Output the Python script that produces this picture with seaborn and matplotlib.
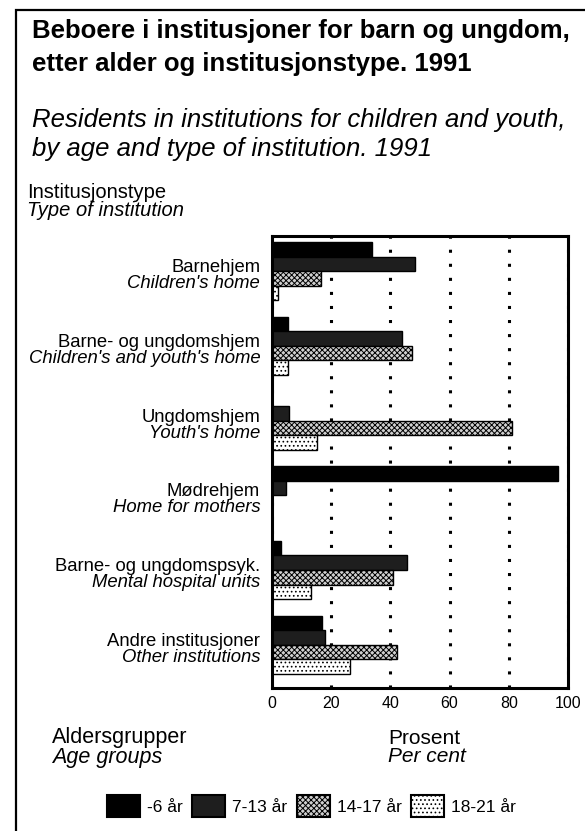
import numpy as np
import pandas as pd
import seaborn as sns
import matplotlib.pyplot as plt
import matplotlib.transforms as mtransforms
from matplotlib.patches import Rectangle

# institution types (Norwegian / English)
inst_no = ["Barnehjem", "Barne- og ungdomshjem", "Ungdomshjem", "Mødrehjem",
           "Barne- og ungdomspsyk.", "Andre institusjoner"]
inst_en = ["Children's home", "Children's and youth's home", "Youth's home",
           "Home for mothers", "Mental hospital units", "Other institutions"]

age_groups = ["-6 år", "7-13 år", "14-17 år", "18-21 år"]

# per cent of residents in each age group
under_6 = [33.7, 5.3, 0.0, 96.5, 3.0, 16.8]
age_7_13 = [48.3, 43.8, 5.7, 4.6, 45.5, 17.9]
age_14_17 = [16.5, 47.4, 81.0, 0.0, 41.0, 42.1]
age_18_21 = [2.1, 5.4, 15.1, 0.0, 13.2, 26.4]

xticks = [0, 20, 40, 60, 80, 100]

rows = []
for label, vals in zip(age_groups, [under_6, age_7_13, age_14_17, age_18_21]):
    for inst, v in zip(inst_no, vals):
        rows.append((inst, label, v))
df = pd.DataFrame(rows, columns=["institution", "age", "percent"])

sns.set_style("white")
plt.rcParams['font.family'] = ['Liberation Sans', 'DejaVu Sans']
plt.rcParams['text.color'] = 'black'
plt.rcParams['axes.labelcolor'] = 'black'
plt.rcParams['xtick.color'] = 'black'
plt.rcParams['hatch.linewidth'] = 0.7

W, H = 585, 831
fig = plt.figure(figsize=(W / 100, H / 100), dpi=100)

def fx(px):
    return px / W

def fy(py):
    return 1 - py / H

ax = fig.add_axes([fx(272), fy(688), fx(568) - fx(272), fy(236) - fy(688)])

sns.barplot(data=df, x="percent", y="institution", hue="age", order=inst_no,
            hue_order=age_groups, orient="h", width=0.78, dodge=True,
            palette=["black"] * 4, saturation=1, legend=False, ax=ax)

styles = [
    dict(facecolor="black", hatch=None),
    dict(facecolor="#1e1e1e", hatch=None),
    dict(facecolor="#d0d0d0", hatch="xxxxxx"),
    dict(facecolor="white", hatch="...."),
]
for cont, st in zip(ax.containers, styles):
    for bar in cont:
        bar.set_facecolor(st["facecolor"])
        bar.set_edgecolor("black")
        bar.set_linewidth(1.0)
        if st["hatch"]:
            bar.set_hatch(st["hatch"])

ax.set_xlim(0, 100)
ax.set_ylim(5.58, -0.47)
ax.set_xticks(xticks)
ax.set_xticklabels([str(t) for t in xticks])
ax.set_yticks([])
ax.set_xlabel("")
ax.set_ylabel("")
ax.tick_params(axis="x", length=0, pad=6, labelsize=11.5, colors="black")
ax.grid(axis="x", color="black", linestyle=(0, (1, 3.6)), linewidth=2.2)
ax.set_axisbelow(True)
for sp in ax.spines.values():
    sp.set_visible(True)
    sp.set_color("black")
    sp.set_linewidth(2.2)

# category labels, two lines each
trans = mtransforms.blended_transform_factory(ax.transAxes, ax.transData)
for i, (no, en) in enumerate(zip(inst_no, inst_en)):
    ax.annotate(no, xy=(-0.04, i), xycoords=trans, xytext=(0, 2.5),
                textcoords="offset points", ha="right", va="center",
                fontsize=13.3)
    ax.annotate(en, xy=(-0.04, i), xycoords=trans, xytext=(0, -9),
                textcoords="offset points", ha="right", va="center",
                fontsize=13.3, style="italic")

# titles and side texts
fig.text(fx(32), fy(31), "Beboere i institusjoner for barn og ungdom,",
         fontsize=18.5, fontweight="bold", va="center")
fig.text(fx(32), fy(64), "etter alder og institusjonstype. 1991",
         fontsize=18.5, fontweight="bold", va="center")
fig.text(fx(32), fy(120), "Residents in institutions for children and youth,",
         fontsize=18.5, style="italic", va="center")
fig.text(fx(32), fy(149), "by age and type of institution. 1991",
         fontsize=18.5, style="italic", va="center")
fig.text(fx(27), fy(192), "Institusjonstype", fontsize=14.5, va="center")
fig.text(fx(27), fy(211), "Type of institution", fontsize=14.5,
         style="italic", va="center")
fig.text(fx(52), fy(738), "Aldersgrupper", fontsize=15.5, va="center")
fig.text(fx(52), fy(757), "Age groups", fontsize=15.5, style="italic",
         va="center")
fig.text(fx(388), fy(738), "Prosent", fontsize=15, va="center")
fig.text(fx(388), fy(757), "Per cent", fontsize=15, style="italic",
         va="center")

# legend
leg = fig.legend(ax.containers, age_groups, ncol=4, frameon=False,
                 loc="center left", bbox_to_anchor=(fx(100), fy(806)),
                 fontsize=12.5, handlelength=1.9, handleheight=1.5,
                 handletextpad=0.4, columnspacing=0.55, borderaxespad=0)
for h in leg.legend_handles:
    h.set_linewidth(1.5)

# outer frame
fig.patches.append(Rectangle((fx(16), -0.1), 1.2, fy(10) + 0.1,
                             transform=fig.transFigure, fill=False,
                             edgecolor="black", linewidth=1.6))

fig.savefig("out.png", dpi=100)
